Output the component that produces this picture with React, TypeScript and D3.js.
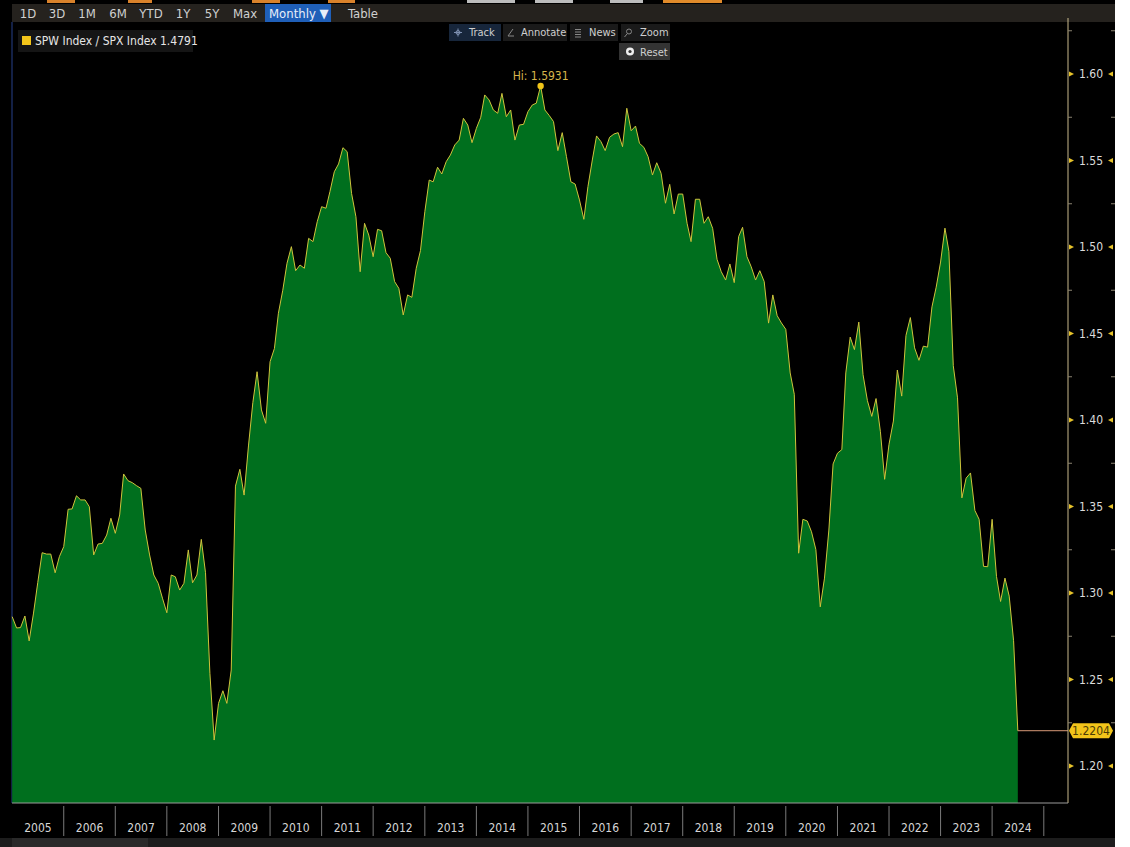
import React, { useEffect, useRef } from "react";
import * as d3 from "d3";

// SPW Index / SPX Index, monthly, Jan 2005 - Jul 2024
const y2005 = [1.2863, 1.2798, 1.28, 1.2867, 1.2723, 1.2884, 1.306, 1.3233, 1.3225, 1.3225, 1.3117, 1.321];
const y2006 = [1.3268, 1.3484, 1.3486, 1.3562, 1.3538, 1.3538, 1.3499, 1.322, 1.3283, 1.3287, 1.3335, 1.3432];
const y2007 = [1.3345, 1.3451, 1.3688, 1.3649, 1.3638, 1.362, 1.3605, 1.3364, 1.322, 1.3104, 1.3056, 1.297];
const y2008 = [1.2886, 1.3104, 1.3094, 1.3017, 1.3056, 1.3249, 1.3059, 1.3104, 1.331, 1.3117, 1.2536, 1.215];
const y2009 = [1.2362, 1.2435, 1.2362, 1.2555, 1.3618, 1.3715, 1.3566, 1.385, 1.41, 1.4279, 1.4058, 1.3981];
const y2010 = [1.4337, 1.4414, 1.4617, 1.475, 1.4906, 1.5002, 1.4863, 1.4896, 1.4877, 1.505, 1.5031, 1.5146];
const y2011 = [1.5233, 1.5224, 1.532, 1.5435, 1.548, 1.5574, 1.5551, 1.531, 1.5175, 1.4857, 1.5137, 1.5069];
const y2012 = [1.4944, 1.5102, 1.5094, 1.4967, 1.4935, 1.48, 1.4761, 1.4607, 1.4723, 1.4709, 1.4877, 1.4979];
const y2013 = [1.5204, 1.5387, 1.5377, 1.5461, 1.5422, 1.5493, 1.5532, 1.559, 1.5618, 1.5744, 1.5705, 1.5603];
const y2014 = [1.5686, 1.575, 1.5879, 1.585, 1.5792, 1.5773, 1.5888, 1.5753, 1.5792, 1.5618, 1.5705, 1.5709];
const y2015 = [1.5782, 1.5821, 1.5831, 1.5931, 1.5792, 1.576, 1.5725, 1.5557, 1.5661, 1.5522, 1.5377, 1.5364];
const y2016 = [1.5272, 1.516, 1.5349, 1.5503, 1.5642, 1.5609, 1.5557, 1.5634, 1.5653, 1.5661, 1.558, 1.5802];
const y2017 = [1.5672, 1.5699, 1.5599, 1.5576, 1.5522, 1.5416, 1.5487, 1.5426, 1.5253, 1.5362, 1.5191, 1.5306];
const y2018 = [1.5306, 1.5137, 1.5031, 1.5276, 1.5276, 1.5137, 1.5175, 1.5108, 1.4929, 1.4857, 1.4809, 1.4902];
const y2019 = [1.4794, 1.506, 1.5114, 1.4944, 1.4886, 1.4809, 1.4863, 1.48, 1.456, 1.4723, 1.4603, 1.4561];
const y2020 = [1.4524, 1.4272, 1.4149, 1.323, 1.3426, 1.3416, 1.3354, 1.3251, 1.292, 1.3086, 1.3364, 1.3746];
const y2021 = [1.3808, 1.3829, 1.4272, 1.4479, 1.4407, 1.4566, 1.4262, 1.4112, 1.4021, 1.4124, 1.3932, 1.3657];
const y2022 = [1.386, 1.3994, 1.4289, 1.4138, 1.4489, 1.4592, 1.4417, 1.4345, 1.4427, 1.4421, 1.4654, 1.4768];
const y2023 = [1.4913, 1.5109, 1.4975, 1.4314, 1.4128, 1.355, 1.3664, 1.3694, 1.3477, 1.3426, 1.3154, 1.3152];
const y2024 = [1.3426, 1.3096, 1.2951, 1.3086, 1.2982, 1.2724, 1.2204];

const ratio = [
  ...y2005, ...y2006, ...y2007, ...y2008, ...y2009, ...y2010, ...y2011,
  ...y2012, ...y2013, ...y2014, ...y2015, ...y2016, ...y2017, ...y2018,
  ...y2019, ...y2020, ...y2021, ...y2022, ...y2023, ...y2024,
];

const yearLabels = d3.range(2005, 2025);
const yTicks = [1.2, 1.25, 1.3, 1.35, 1.4, 1.45, 1.5, 1.55, 1.6];
const rangeButtons = ["1D", "3D", "1M", "6M", "YTD", "1Y", "5Y", "Max"];
const seriesName = "SPW Index / SPX Index";
const legendValue = 1.4791;
const lastValue = 1.2204;

interface Point { date: Date; value: number; }

const FONT = "'Liberation Sans Narrow', 'DejaVu Sans Condensed', 'Arial Narrow', sans-serif";

const App: React.FC = () => {
  const svgRef = useRef<SVGSVGElement | null>(null);

  useEffect(() => {
    if (!svgRef.current) return;
    const width = 1130;
    const height = 847;
    const plot = { left: 12, right: 1068, top: 22, bottom: 803 };
    const axisRight = 1115;

    const svg = d3.select(svgRef.current);
    svg.selectAll("*").remove();
    svg.attr("width", width).attr("height", height);

    const data: Point[] = ratio.map((v, i) => ({ date: new Date(2005, i, 1), value: v }));

    const x = d3.scaleTime()
      .domain([new Date(2005, 0, 1), new Date(2025, 0, 1)])
      .range([12.2, 1043.8]);
    const y = d3.scaleLinear().domain([1.2, 1.6]).range([766, 74]);

    // backgrounds
    svg.append("rect").attr("x", 0).attr("y", 0).attr("width", axisRight).attr("height", height).attr("fill", "#000");
    svg.append("rect").attr("x", 0).attr("y", 838).attr("width", axisRight).attr("height", 9).attr("fill", "#1d1d1d");
    svg.append("rect").attr("x", 12).attr("y", 838).attr("width", 136).attr("height", 9).attr("fill", "#2a2a2a");

    // top strip tabs
    const tabs: [number, number, string][] = [
      [47, 28, "#d9822b"], [128, 24, "#d9822b"], [252, 28, "#d9822b"], [328, 27, "#d9822b"],
      [467, 48, "#bdbdbd"], [535, 38, "#bdbdbd"], [610, 33, "#bdbdbd"], [663, 59, "#e08a2a"],
    ];
    tabs.forEach(([tx, tw, c]) => {
      svg.append("rect").attr("x", tx).attr("y", 0).attr("width", tw).attr("height", 3).attr("fill", c);
    });

    // toolbar
    svg.append("rect").attr("x", 12).attr("y", 4).attr("width", axisRight - 12).attr("height", 18).attr("fill", "#25221e");
    const btnCenters = [28, 57, 87, 118, 151, 183, 212, 245];
    rangeButtons.forEach((b, i) => {
      svg.append("text").attr("x", btnCenters[i]).attr("y", 18)
        .attr("text-anchor", "middle").attr("fill", "#d0d0d0")
        .style("font-family", FONT).style("font-size", "13px").text(b);
    });
    svg.append("rect").attr("x", 265).attr("y", 4).attr("width", 66).attr("height", 18).attr("fill", "#1f5fb8");
    svg.append("text").attr("x", 269).attr("y", 18).attr("fill", "#e8eef8")
      .style("font-family", FONT).style("font-size", "13px").text("Monthly ▼");
    svg.append("text").attr("x", 363).attr("y", 18).attr("text-anchor", "middle").attr("fill", "#d0d0d0")
      .style("font-family", FONT).style("font-size", "13px").text("Table");

    // left border
    svg.append("line").attr("x1", 12).attr("x2", 12).attr("y1", plot.top).attr("y2", plot.bottom)
      .attr("stroke", "#27408a").attr("stroke-width", 1);

    // area + line
    const area = d3.area<Point>()
      .x(d => x(d.date))
      .y0(plot.bottom)
      .y1(d => y(d.value));
    const line = d3.line<Point>()
      .x(d => x(d.date))
      .y(d => y(d.value));

    svg.append("path").datum(data).attr("d", area).attr("fill", "#006f1e");
    svg.append("path").datum(data).attr("d", line).attr("fill", "none")
      .attr("stroke", "#cfc43c").attr("stroke-width", 1);

    // last value line
    const last = data[data.length - 1];
    svg.append("line")
      .attr("x1", x(last.date)).attr("x2", plot.right)
      .attr("y1", y(lastValue)).attr("y2", y(lastValue))
      .attr("stroke", "#d99a78").attr("stroke-width", 1);

    // frame: right axis + bottom
    svg.append("line").attr("x1", plot.right).attr("x2", plot.right).attr("y1", plot.top - 4).attr("y2", plot.bottom)
      .attr("stroke", "#c9b98c").attr("stroke-width", 1);
    svg.append("line").attr("x1", plot.left).attr("x2", plot.right).attr("y1", plot.bottom).attr("y2", plot.bottom)
      .attr("stroke", "#9a9a9a").attr("stroke-width", 1);

    // y axis ticks
    const minor = d3.range(1.175, 1.65, 0.05).map(v => +v.toFixed(3)).filter(v => y(v) > plot.top && y(v) < plot.bottom);
    minor.forEach(v => {
      const yy = y(v);
      svg.append("line").attr("x1", plot.right).attr("x2", plot.right + 4).attr("y1", yy).attr("y2", yy)
        .attr("stroke", "#8a8270");
      svg.append("line").attr("x1", axisRight - 4).attr("x2", axisRight).attr("y1", yy).attr("y2", yy)
        .attr("stroke", "#8a8270");
    });
    yTicks.forEach(v => {
      const yy = y(v);
      svg.append("path")
        .attr("d", `M${plot.right + 1},${yy - 2.5}L${plot.right + 6},${yy}L${plot.right + 1},${yy + 2.5}Z`)
        .attr("fill", "#e6c22a");
      svg.append("path")
        .attr("d", `M${axisRight - 2},${yy - 2.5}L${axisRight - 7},${yy}L${axisRight - 2},${yy + 2.5}Z`)
        .attr("fill", "#e6c22a");
      svg.append("text").attr("x", 1091).attr("y", yy + 4).attr("text-anchor", "middle")
        .attr("fill", "#dcdcdc").style("font-family", FONT).style("font-size", "12px")
        .text(v.toFixed(2));
    });

    // last value tag
    const ty = y(lastValue);
    svg.append("path")
      .attr("d", `M1069,${ty}L1073,${ty - 7.5}L1109,${ty - 7.5}L1113,${ty}L1109,${ty + 7.5}L1073,${ty + 7.5}Z`)
      .attr("fill", "#f2c41a");
    svg.append("text").attr("x", 1091).attr("y", ty + 4).attr("text-anchor", "middle")
      .attr("fill", "#4b3c05").style("font-family", FONT).style("font-size", "12px").text(lastValue.toFixed(4));

    // x axis
    yearLabels.forEach(yr => {
      const x0 = x(new Date(yr, 0, 1));
      const x1 = x(new Date(yr + 1, 0, 1));
      if (yr > 2005) {
        svg.append("line").attr("x1", x0).attr("x2", x0).attr("y1", 806).attr("y2", 836)
          .attr("stroke", "#7a7a7a");
      }
      svg.append("text").attr("x", (x0 + x1) / 2).attr("y", 832).attr("text-anchor", "middle")
        .attr("fill", "#d6d6d6").style("font-family", FONT).style("font-size", "12px").text(yr);
    });
    const xEnd = x(new Date(2025, 0, 1));
    svg.append("line").attr("x1", xEnd).attr("x2", xEnd).attr("y1", 806).attr("y2", 836).attr("stroke", "#7a7a7a");

    // Hi annotation
    const hiIdx = d3.maxIndex(data, d => d.value);
    const hi = data[hiIdx];
    svg.append("circle").attr("cx", x(hi.date)).attr("cy", y(hi.value)).attr("r", 3.2).attr("fill", "#f0c419");
    svg.append("text").attr("x", x(hi.date)).attr("y", y(hi.value) - 6).attr("text-anchor", "middle")
      .attr("fill", "#d6b64c").style("font-family", FONT).style("font-size", "12px")
      .text(`Hi: ${hi.value.toFixed(4)}`);

    // legend
    svg.append("rect").attr("x", 18).attr("y", 30).attr("width", 175).attr("height", 22).attr("fill", "#151515");
    svg.append("rect").attr("x", 22).attr("y", 36).attr("width", 9).attr("height", 9).attr("fill", "#f2c41a");
    svg.append("text").attr("x", 35).attr("y", 45).attr("fill", "#e6e6e6")
      .style("font-family", FONT).style("font-size", "12px")
      .text(`${seriesName} ${legendValue.toFixed(4)}`);

    // chart tool buttons
    const tools: [string, number, number, number, string][] = [
      ["Track", 449, 52, 469, "#17263b"], ["Annotate", 503, 64, 521, "#1a1a1a"],
      ["News", 570, 48, 589, "#1a1a1a"], ["Zoom", 621, 49, 640, "#1a1a1a"],
    ];
    tools.forEach(([label, bx, bw, textX, bg]) => {
      svg.append("rect").attr("x", bx).attr("y", 24).attr("width", bw).attr("height", 17).attr("fill", bg);
      svg.append("text").attr("x", textX).attr("y", 36)
        .attr("fill", "#cfcfcf").style("font-family", FONT).style("font-size", "11px").text(label);
    });
    // icons
    svg.append("path").attr("d", "M458,28.5V36.5M454,32.5H462").attr("stroke", "#7d8fb0").attr("stroke-width", 1);
    svg.append("circle").attr("cx", 458).attr("cy", 32.5).attr("r", 2).attr("fill", "none").attr("stroke", "#7d8fb0");
    svg.append("path").attr("d", "M508,36L513,29M508,36H514").attr("stroke", "#888").attr("stroke-width", 1);
    svg.append("path").attr("d", "M575,29.5H581M575,32H581M575,34.5H581M575,37H581").attr("stroke", "#888").attr("stroke-width", 1);
    svg.append("circle").attr("cx", 629).attr("cy", 31.5).attr("r", 2.5).attr("fill", "none").attr("stroke", "#888");
    svg.append("path").attr("d", "M627,34L624.5,37").attr("stroke", "#888");
    svg.append("rect").attr("x", 619).attr("y", 43).attr("width", 51).attr("height", 17).attr("fill", "#333");
    svg.append("circle").attr("cx", 630).attr("cy", 51.5).attr("r", 4).attr("fill", "#eee");
    svg.append("circle").attr("cx", 630).attr("cy", 51.5).attr("r", 1.6).attr("fill", "#333");
    svg.append("text").attr("x", 640).attr("y", 55.5)
      .attr("fill", "#cfcfcf").style("font-family", FONT).style("font-size", "11px").text("Reset");
  }, []);

  return (
    <svg ref={svgRef} style={{ position: "absolute", left: 0, top: 0, display: "block" }}></svg>
  );
};

export default App;
